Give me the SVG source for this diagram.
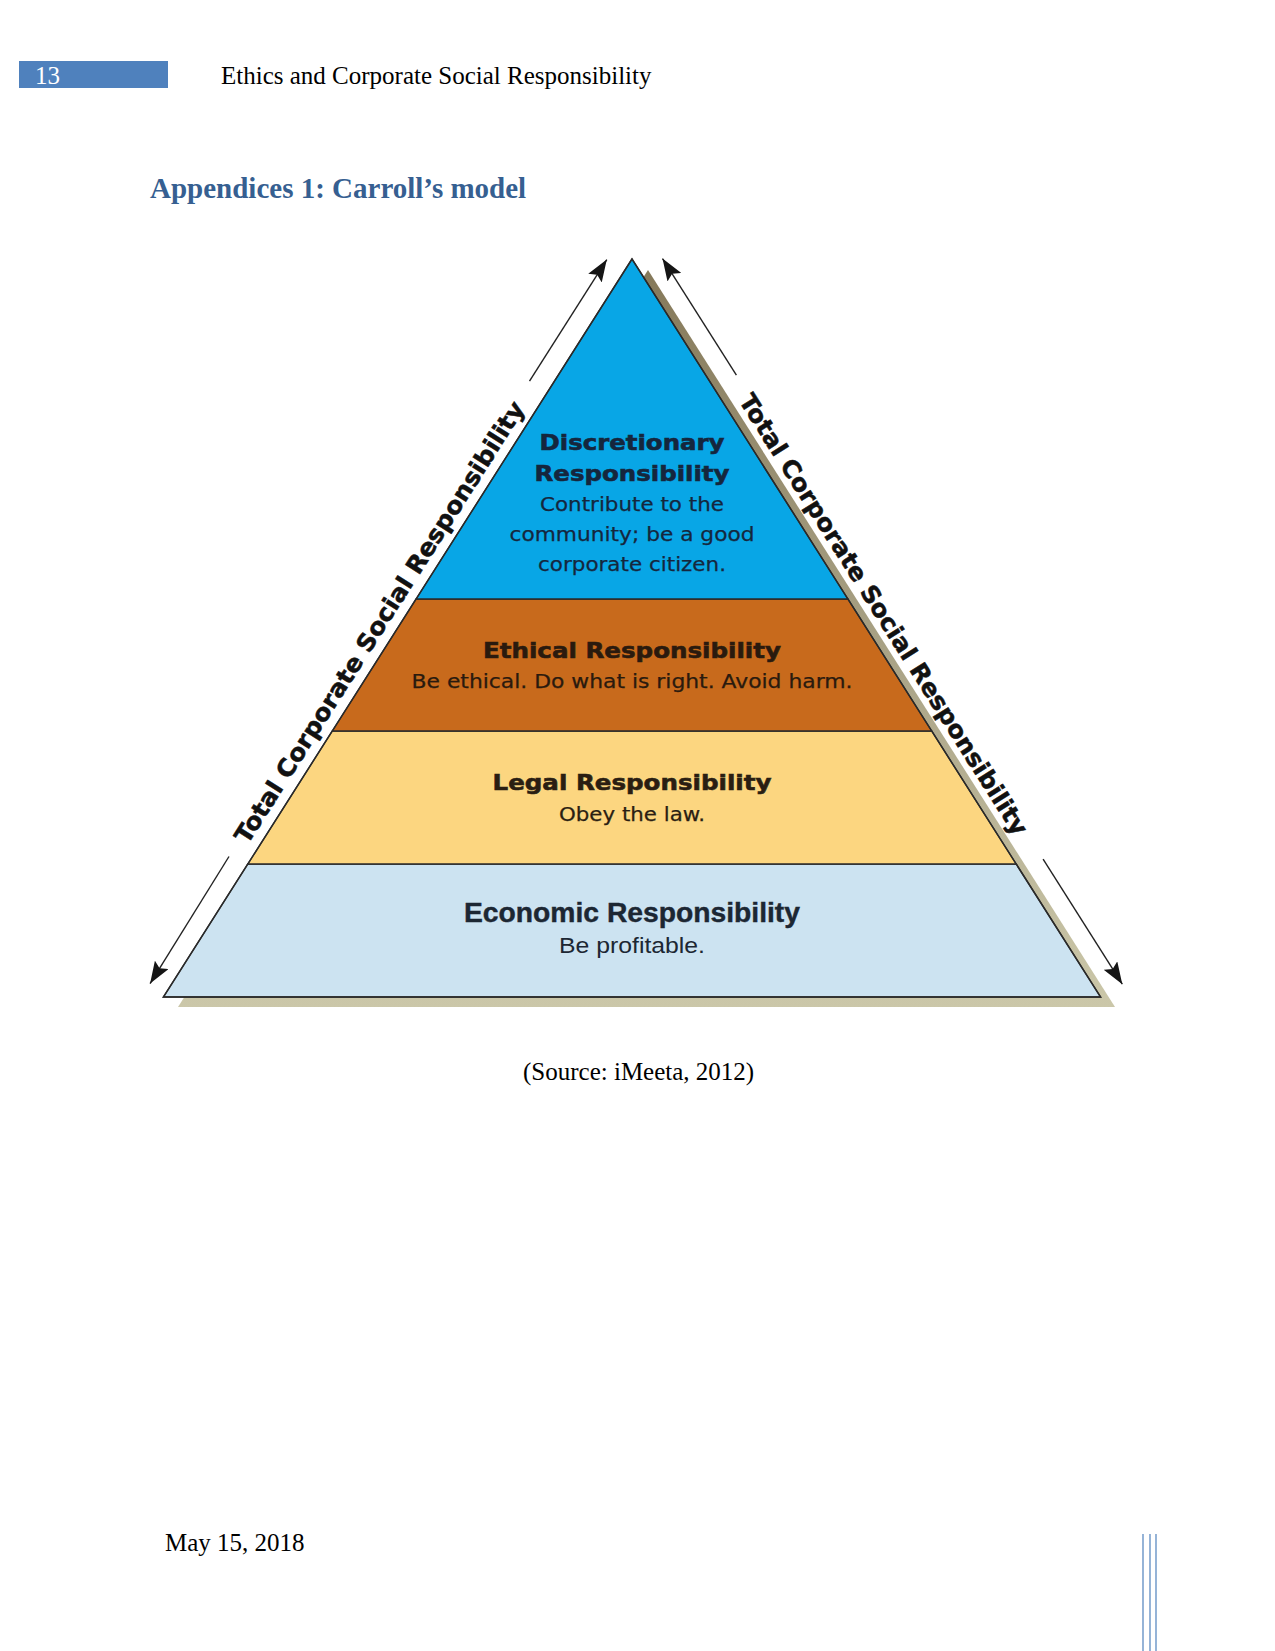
<svg xmlns="http://www.w3.org/2000/svg" width="1275" height="1651" viewBox="0 0 1275 1651">
<style>
.serif{font-family:"Liberation Serif","Times New Roman",serif;}
.hd{font-family:"DejaVu Sans","Liberation Sans",sans-serif;font-weight:bold;stroke-width:0.6;}
.sub{font-family:"DejaVu Sans","Liberation Sans",sans-serif;stroke-width:0.25;}
.cond{font-family:"Liberation Sans Narrow","Liberation Sans",Arial,sans-serif;}
.side{font-family:"DejaVu Sans","Liberation Sans",sans-serif;font-weight:bold;font-size:24px;fill:#111;stroke:#111;stroke-width:0.5;}
.band{stroke:#2a2a2a;stroke-width:1.3;}
.arr{stroke:#222;stroke-width:1.4;fill:none;marker-end:url(#ah);}
.fl{stroke:#4F81BD;stroke-width:1.2;}
</style>
<defs>
<marker id="ah" markerUnits="userSpaceOnUse" markerWidth="24" markerHeight="16" refX="22" refY="8" orient="auto">
<path d="M0,0 L22,8 L0,16 L4,8 z" fill="#151515"/>
</marker>
<linearGradient id="sh" x1="0" y1="0" x2="0" y2="1">
<stop offset="0" stop-color="#85795A"/>
<stop offset="0.5" stop-color="#A8A184"/>
<stop offset="1" stop-color="#CBC7A9"/>
</linearGradient>
</defs>
<rect width="1275" height="1651" fill="#FFFFFF"/>

<g id="header">
<rect x="19" y="61" width="149" height="27" fill="#4F81BD"/>
<text class="serif" x="35" y="84" font-size="25" fill="#FFFFFF">13</text>
<text class="serif" x="221" y="84" font-size="25" fill="#000000">Ethics and Corporate Social Responsibility</text>
</g>

<g id="title">
<text class="serif" x="150" y="198" font-size="29" font-weight="bold" fill="#365F91">Appendices 1: Carroll’s model</text>
</g>

<g id="pyramid-shadow">
<polygon points="648,270 178,1007 1115,1007" fill="url(#sh)"/>
</g>

<g id="economic">
<polygon class="band" points="247.8,864 1016.2,864 1100.6,997 163.4,997" fill="#CCE3F1"/>
<text class="cond" x="632" y="922" font-size="27" font-weight="bold" fill="#1C2733" stroke="#1C2733" stroke-width="0.4" text-anchor="middle" textLength="336" lengthAdjust="spacingAndGlyphs">Economic Responsibility</text>
<text class="cond" x="632" y="953" font-size="22" fill="#1C2733" text-anchor="middle" textLength="146" lengthAdjust="spacingAndGlyphs">Be profitable.</text>
</g>

<g id="legal">
<polygon class="band" points="332.3,731 931.7,731 1016.2,864 247.8,864" fill="#FCD680"/>
<text class="hd" x="632" y="790" font-size="22" fill="#2A1E12" stroke="#2A1E12" text-anchor="middle" textLength="279" lengthAdjust="spacingAndGlyphs">Legal Responsibility</text>
<text class="sub" x="632" y="821" font-size="19" fill="#2A1E12" stroke="#2A1E12" text-anchor="middle" textLength="146" lengthAdjust="spacingAndGlyphs">Obey the law.</text>
</g>

<g id="ethical">
<polygon class="band" points="416.1,599 847.9,599 931.7,731 332.3,731" fill="#C86A1C"/>
<text class="hd" x="632" y="658" font-size="22" fill="#2A1A0E" stroke="#2A1A0E" text-anchor="middle" textLength="298" lengthAdjust="spacingAndGlyphs">Ethical Responsibility</text>
<text class="sub" x="632" y="688" font-size="19" fill="#2A1A0E" stroke="#2A1A0E" text-anchor="middle" textLength="441" lengthAdjust="spacingAndGlyphs">Be ethical. Do what is right. Avoid harm.</text>
</g>

<g id="discretionary">
<polygon class="band" points="632,259 847.9,599 416.1,599" fill="#08A6E6"/>
<text class="hd" x="632" y="450" font-size="22" fill="#15263D" stroke="#15263D" text-anchor="middle" textLength="185" lengthAdjust="spacingAndGlyphs">Discretionary</text>
<text class="hd" x="632" y="481" font-size="22" fill="#15263D" stroke="#15263D" text-anchor="middle" textLength="195" lengthAdjust="spacingAndGlyphs">Responsibility</text>
<text class="sub" x="632" y="511" font-size="19" fill="#15263D" stroke="#15263D" text-anchor="middle" textLength="184" lengthAdjust="spacingAndGlyphs">Contribute to the</text>
<text class="sub" x="632" y="541" font-size="19" fill="#15263D" stroke="#15263D" text-anchor="middle" textLength="245" lengthAdjust="spacingAndGlyphs">community; be a good</text>
<text class="sub" x="632" y="571" font-size="19" fill="#15263D" stroke="#15263D" text-anchor="middle" textLength="188" lengthAdjust="spacingAndGlyphs">corporate citizen.</text>
</g>

<g id="outline">
<polygon points="632,259 1100.6,997 163.4,997" fill="none" stroke="#2a2a2a" stroke-width="1.5"/>
</g>

<g id="label-left">
<text class="side" transform="translate(386.5,626.7) rotate(-57.56)" text-anchor="middle" textLength="518" lengthAdjust="spacingAndGlyphs">Total Corporate Social Responsibility</text>
</g>
<g id="label-right">
<text class="side" transform="translate(876.6,618.9) rotate(57.64)" text-anchor="middle" textLength="517" lengthAdjust="spacingAndGlyphs">Total Corporate Social Responsibility</text>
</g>

<g id="connectors">
<line class="arr" x1="529.5" y1="381.1" x2="606.8" y2="259.6"/>
<line class="arr" x1="229" y1="856.5" x2="150.1" y2="983.6"/>
<line class="arr" x1="736.4" y1="375.2" x2="662.5" y2="258.6"/>
<line class="arr" x1="1043.1" y1="859.2" x2="1122.3" y2="984.2"/>
</g>

<g id="source">
<text class="serif" x="523" y="1080" font-size="25" fill="#000000">(Source: iMeeta, 2012)</text>
</g>

<g id="footer">
<text class="serif" x="165" y="1551" font-size="25" fill="#000000">May 15, 2018</text>
<line class="fl" x1="1143" y1="1534" x2="1143" y2="1651"/>
<line class="fl" x1="1150" y1="1534" x2="1150" y2="1651"/>
<line class="fl" x1="1156" y1="1534" x2="1156" y2="1651"/>
</g>
</svg>
